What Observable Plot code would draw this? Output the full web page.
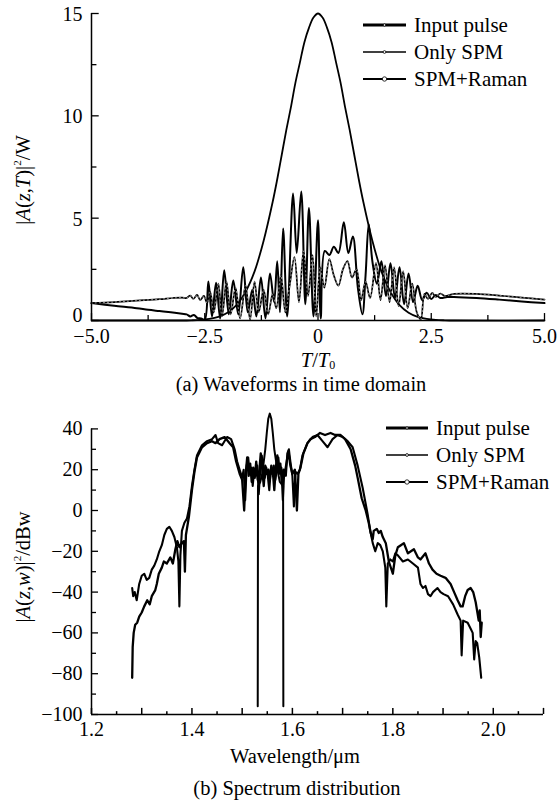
<!DOCTYPE html>
<html><head><meta charset="utf-8">
<script src="https://cdn.jsdelivr.net/npm/d3@7"></script>
<script src="https://cdn.jsdelivr.net/npm/@observablehq/plot@0.6"></script>
<style>
body{margin:0;background:#fff;}
#wrap{position:relative;width:558px;height:803px;font-family:"Liberation Serif","Times New Roman",serif;color:#000;overflow:hidden;background:#fff;}
.plot{position:absolute;left:0;}
.txt{position:absolute;font-size:20.5px;white-space:nowrap;line-height:1;transform:translate(-50%,-50%);}
.rot{position:absolute;font-size:20.5px;white-space:nowrap;line-height:1;transform:translate(-50%,-50%) rotate(-90deg);}
.leg{position:absolute;font-size:21px;white-space:nowrap;line-height:1;}
sup{font-size:11px;vertical-align:top;position:relative;top:-1px;}
sub{font-size:12px;vertical-align:baseline;position:relative;top:2px;line-height:1;}
</style></head><body><div id="wrap"></div>
<script>
// ---------- Panel (a): waveforms in time domain ----------
const timeTicks = [-5, -2.5, 0, 2.5, 5];
const timeMinorTicks = [-3.75, -1.25, 1.25, 3.75];
const powerTicks = [0, 5, 10, 15];
const powerMinorTicks = [2.5, 7.5, 12.5];

const waveInput = [[-5,0],[-3.5,0],[-3.0,0],[-2.8,0.01],[-2.6,0.03],[-2.4,0.08],[-2.2,0.18],[-2.0,0.38],[-1.8,0.75],[-1.6,1.4],[-1.4,2.4],[-1.2,3.9],[-1.0,5.8],[-0.9,6.9],[-0.8,8.1],[-0.7,9.3],[-0.6,10.4],[-0.5,11.6],[-0.4,12.6],[-0.3,13.6],[-0.2,14.3],[-0.1,14.8],[0,15],[0.1,14.8],[0.2,14.3],[0.3,13.6],[0.4,12.6],[0.5,11.6],[0.6,10.4],[0.7,9.3],[0.8,8.1],[0.9,6.9],[1.0,5.8],[1.2,3.9],[1.4,2.4],[1.6,1.4],[1.8,0.75],[2.0,0.38],[2.2,0.18],[2.4,0.08],[2.6,0.03],[2.8,0.01],[3.0,0],[5,0]];

const waveSPM = [[-5,0.85],[-4.5,0.9],[-4,0.97],[-3.5,1.04],[-3.2,1.1],[-3.0,1.12],[-2.9,1.1],[-2.82,1.22],[-2.75,1.05],[-2.67,1.25],[-2.6,1.0],[-2.52,1.2],[-2.45,0.85],[-2.38,1.4],[-2.3,0.4],[-2.2,1.8],[-2.12,0.2],[-2.02,1.9],[-1.93,0.3],[-1.82,1.6],[-1.72,0.1],[-1.6,1.7],[-1.5,0.05],[-1.4,1.9],[-1.31,0.4],[-1.2,1.5],[-1.1,0.3],[-1.0,1.3],[-0.92,0.6],[-0.82,2.2],[-0.72,0.4],[-0.62,1.8],[-0.52,3.1],[-0.42,0.9],[-0.32,3.4],[-0.22,1.2],[-0.12,3.2],[-0.04,0.2],[0.05,2.6],[0.14,1.6],[0.25,3.0],[0.35,2.2],[0.45,1.7],[0.55,2.5],[0.65,2.9],[0.75,2.1],[0.85,2.5],[0.95,1.0],[1.05,1.9],[1.15,1.1],[1.28,2.8],[1.38,1.0],[1.48,2.7],[1.58,0.9],[1.68,2.6],[1.78,0.7],[1.88,2.4],[1.98,0.6],[2.08,1.8],[2.18,0.4],[2.27,0.05],[2.35,1.3],[2.43,1.05],[2.52,1.35],[2.6,1.15],[2.7,1.32],[2.8,1.2],[3.0,1.3],[3.5,1.3],[4.0,1.22],[4.5,1.12],[5.0,1.02]];

const waveRaman = [[-5,0.85],[-4.5,0.72],[-4.0,0.6],[-3.75,0.52],[-3.5,0.46],[-3.25,0.4],[-3.0,0.33],[-2.9,0.3],[-2.82,0.2],[-2.74,0.27],[-2.66,0.12],[-2.58,0.1],[-2.5,0.03],[-2.42,1.9],[-2.34,0.2],[-2.25,1.85],[-2.16,0.1],[-2.07,2.45],[-1.97,0.3],[-1.87,1.95],[-1.76,0.3],[-1.65,2.6],[-1.55,0.4],[-1.45,1.5],[-1.36,0.2],[-1.26,2.1],[-1.16,0.1],[-1.06,2.3],[-0.97,0.9],[-0.9,2.9],[-0.84,0.4],[-0.77,4.5],[-0.68,0.2],[-0.55,6.2],[-0.47,3.3],[-0.37,6.3],[-0.28,0.8],[-0.2,5.5],[-0.1,0.2],[0.0,4.9],[0.06,0.1],[0.15,3.4],[0.25,3.2],[0.35,3.6],[0.45,3.3],[0.57,4.8],[0.67,3.3],[0.77,4.1],[0.88,1.6],[0.98,0.3],[1.05,2.2],[1.12,4.7],[1.2,2.9],[1.3,1.8],[1.4,2.9],[1.5,1.2],[1.6,2.8],[1.7,1.1],[1.8,2.6],[1.9,0.8],[2.0,2.3],[2.1,0.9],[2.2,1.7],[2.3,1.0],[2.4,1.35],[2.5,1.05],[2.6,1.25],[2.7,1.1],[2.85,1.15],[3.0,1.15],[3.5,1.1],[4.0,1.02],[4.5,0.93],[5.0,0.85]];

// ---------- Panel (b): spectrum distribution ----------
const lambdaTicks = [1.2, 1.4, 1.6, 1.8, 2.0];
const lambdaMidTicks = [1.3, 1.5, 1.7, 1.9, 2.1];
const lambdaMinorTicks = [1.25, 1.35, 1.45, 1.55, 1.65, 1.75, 1.85, 1.95, 2.05];
const dbTicks = [-100, -80, -60, -40, -20, 0, 20, 40];
const dbMinorTicks = [-90, -70, -50, -30, -10, 10, 30];

const specInput = [[1.531,-96],[1.5315,12],[1.536,14],[1.54,18],[1.543,24],[1.546,30],[1.549,38],[1.552,45],[1.555,47.5],[1.558,45],[1.561,38],[1.564,30],[1.567,25],[1.571,19],[1.575,14],[1.5815,12],[1.582,-96]];

const specSPM = [[1.281,-38],[1.283,-42],[1.286,-40],[1.29,-44],[1.295,-36],[1.3,-32],[1.305,-31],[1.31,-34],[1.315,-33],[1.32,-29],[1.325,-27],[1.33,-24],[1.335,-20],[1.34,-17],[1.345,-12],[1.35,-9],[1.355,-8],[1.36,-10],[1.365,-13],[1.37,-18],[1.373,-25],[1.375,-47],[1.377,-22],[1.38,-10],[1.385,-6],[1.39,-4],[1.395,2],[1.4,12],[1.405,20],[1.41,27],[1.42,32],[1.43,34],[1.44,35],[1.447,37],[1.452,33],[1.46,32],[1.47,36],[1.478,35],[1.485,30],[1.49,24],[1.495,20],[1.5,16],[1.503,20],[1.506,5],[1.509,22],[1.512,26],[1.515,18],[1.518,21],[1.521,12],[1.524,20],[1.527,17],[1.53,22],[1.533,8],[1.536,20],[1.539,27],[1.542,19],[1.545,16],[1.548,21],[1.551,17],[1.554,10],[1.557,20],[1.56,18],[1.563,22],[1.566,15],[1.569,20],[1.572,26],[1.575,18],[1.578,21],[1.581,5],[1.584,20],[1.587,17],[1.59,28],[1.593,30],[1.596,24],[1.6,17],[1.603,2],[1.606,19],[1.61,18],[1.615,20],[1.62,27],[1.63,33],[1.64,36],[1.65,37],[1.66,34],[1.67,31],[1.68,35],[1.69,37],[1.7,36],[1.71,34],[1.72,31],[1.73,22],[1.74,11],[1.75,-2],[1.755,-10],[1.76,-16],[1.765,-20],[1.77,-16],[1.775,-17],[1.78,-20],[1.785,-28],[1.787,-47],[1.79,-26],[1.795,-24],[1.8,-25],[1.805,-21],[1.81,-22],[1.82,-25],[1.83,-24],[1.84,-26],[1.85,-28],[1.855,-36],[1.86,-38],[1.865,-37],[1.87,-41],[1.875,-42],[1.88,-40],[1.889,-38],[1.895,-40],[1.901,-41],[1.91,-42],[1.92,-46],[1.929,-51],[1.935,-54],[1.937,-71],[1.94,-54],[1.949,-55],[1.955,-58],[1.959,-60],[1.962,-73],[1.965,-64],[1.968,-65],[1.972,-72],[1.976,-82]];

const specRaman = [[1.281,-82],[1.282,-67],[1.284,-60],[1.287,-56],[1.291,-55],[1.295,-52],[1.3,-50],[1.305,-47],[1.311,-44],[1.316,-46],[1.32,-42],[1.327,-39],[1.33,-36],[1.334,-31],[1.34,-28],[1.344,-25],[1.35,-26],[1.357,-23],[1.362,-26],[1.367,-19],[1.371,-15],[1.375,-18],[1.38,-16],[1.384,-15],[1.386,-30],[1.388,-12],[1.394,-3],[1.4,10],[1.405,19],[1.41,26],[1.42,31],[1.43,33],[1.44,34],[1.447,33],[1.455,35],[1.465,36],[1.475,33],[1.482,31],[1.488,24],[1.495,18],[1.5,15],[1.504,0],[1.507,18],[1.51,26],[1.513,17],[1.516,23],[1.519,14],[1.522,21],[1.525,16],[1.528,24],[1.531,15],[1.534,19],[1.537,28],[1.54,20],[1.543,12],[1.546,22],[1.549,18],[1.552,20],[1.555,15],[1.558,22],[1.561,19],[1.564,10],[1.567,21],[1.57,27],[1.573,19],[1.576,23],[1.579,14],[1.582,20],[1.585,18],[1.588,23],[1.592,29],[1.596,22],[1.6,18],[1.605,20],[1.609,0],[1.612,18],[1.616,21],[1.622,28],[1.63,33],[1.636,35],[1.645,36],[1.655,38],[1.665,37],[1.676,38],[1.685,37],[1.696,37],[1.705,35],[1.716,30],[1.725,22],[1.73,16],[1.738,6],[1.746,0],[1.752,-6],[1.756,-11],[1.76,-14],[1.762,-10],[1.768,-9],[1.772,-11],[1.776,-10],[1.78,-13],[1.786,-16],[1.792,-25],[1.8,-31],[1.805,-22],[1.81,-18],[1.816,-17],[1.822,-16],[1.83,-21],[1.836,-20],[1.842,-19],[1.85,-23],[1.855,-24],[1.865,-21],[1.872,-26],[1.879,-29],[1.887,-31],[1.895,-32],[1.905,-33],[1.915,-36],[1.922,-40],[1.929,-44],[1.935,-47],[1.939,-47],[1.944,-42],[1.949,-39],[1.955,-38],[1.96,-40],[1.965,-45],[1.971,-54],[1.973,-49],[1.975,-62],[1.977,-55]];

const legendLabels = ["Input pulse", "Only SPM", "SPM+Raman"];

// ---------- build ----------
const FONT = '"Liberation Serif","Times New Roman",serif';
const minus = d => String(d).replace("-", "\u2212");
const wrap = document.getElementById("wrap");

const topPlot = Plot.plot({
  width: 558, height: 350,
  marginLeft: 91, marginRight: 14, marginTop: 13, marginBottom: 30,
  x: {domain: [-5, 5], axis: null},
  y: {domain: [0, 15], axis: null},
  style: {fontFamily: FONT, fontSize: "20px", background: "transparent", overflow: "visible", color: "#000"},
  marks: [
    Plot.line(waveInput, {stroke: "#000", strokeWidth: 1.8, curve: "catmull-rom"}),
    Plot.line(waveRaman, {stroke: "#000", strokeWidth: 2, curve: "catmull-rom"}),
    Plot.line(waveSPM, {stroke: "#000", strokeWidth: 1.7, curve: "catmull-rom"}),
    Plot.line(waveSPM, {stroke: "#fff", strokeWidth: 0.6, strokeDasharray: "1 3", curve: "catmull-rom"}),
    Plot.ruleY([0], {stroke: "#000", strokeWidth: 1.5}),
    Plot.ruleX([-5], {stroke: "#000", strokeWidth: 1.5}),
    Plot.ruleX(timeTicks, {y1: 0, y2: 0.34, stroke: "#000", strokeWidth: 1.3}),
    Plot.ruleX(timeMinorTicks, {y1: 0, y2: 0.24, stroke: "#000", strokeWidth: 1.3}),
    Plot.ruleY(powerTicks, {x1: -5, x2: -4.83, stroke: "#000", strokeWidth: 1.3}),
    Plot.ruleY(powerMinorTicks, {x1: -5, x2: -4.88, stroke: "#000", strokeWidth: 1.3}),
    Plot.axisX(timeTicks, {tickSize: 0, tickPadding: 8, label: null, fontSize: 20, tickFormat: d => d === 0 ? "0" : minus(d.toFixed(1))}),
    Plot.axisY(powerTicks.filter(d => d !== 0), {tickSize: 0, tickPadding: 9, label: null, fontSize: 20, dy: 1, tickFormat: d => String(d)}),
    Plot.axisY(powerTicks.filter(d => d === 0), {tickSize: 0, tickPadding: 9, label: null, fontSize: 20, dy: -5, tickFormat: d => String(d)})
  ]
});
topPlot.classList.add("plot");
topPlot.style.top = "0px";
wrap.appendChild(topPlot);

const botPlot = Plot.plot({
  width: 558, height: 345,
  marginLeft: 91, marginRight: 15, marginTop: 28.4, marginBottom: 31,
  x: {domain: [1.2, 2.1], axis: null},
  y: {domain: [-100, 40], axis: null},
  style: {fontFamily: FONT, fontSize: "20px", background: "transparent", overflow: "visible", color: "#000"},
  marks: [
    Plot.line(specSPM, {stroke: "#000", strokeWidth: 2.1}),
    Plot.line(specRaman, {stroke: "#000", strokeWidth: 2.3}),
    Plot.line(specInput, {stroke: "#000", strokeWidth: 2}),
    Plot.ruleY([-100], {stroke: "#000", strokeWidth: 1.5}),
    Plot.ruleX([1.2], {stroke: "#000", strokeWidth: 1.5}),
    Plot.ruleX(lambdaTicks.concat(lambdaMidTicks), {y1: -100, y2: -97, stroke: "#000", strokeWidth: 1.5}),
    Plot.ruleX(lambdaMinorTicks, {y1: -100, y2: -98.6, stroke: "#000", strokeWidth: 1.5}),
    Plot.ruleY(dbTicks, {x1: 1.2, x2: 1.214, stroke: "#000", strokeWidth: 1.3}),
    Plot.ruleY(dbMinorTicks, {x1: 1.2, x2: 1.21, stroke: "#000", strokeWidth: 1.3}),
    Plot.axisX(lambdaTicks, {tickSize: 0, tickPadding: 7, label: null, fontSize: 20, tickFormat: d => d.toFixed(1)}),
    Plot.axisY(dbTicks, {tickSize: 0, tickPadding: 9, label: null, fontSize: 20, tickFormat: minus})
  ]
});
botPlot.classList.add("plot");
botPlot.style.top = "400px";
wrap.appendChild(botPlot);

// ---------- texts ----------
function addText(html, x, y, cls) {
  const d = document.createElement("div");
  d.className = cls || "txt";
  d.style.left = x + "px";
  d.style.top = y + "px";
  d.innerHTML = html;
  wrap.appendChild(d);
}
addText('|<i>A</i>(<i>z</i>,<i>T</i>)|<sup>2</sup>/W', 23, 180, "rot");
addText('<i>T</i>/<i>T</i><sub>0</sub>', 318, 360);
addText('(a) Waveforms in time domain', 301, 384);
addText('|<i>A</i>(<i>z</i>,<i>w</i>)|<sup>2</sup>/dBw', 23, 567, "rot");
addText('Wavelength/\u03bcm', 295, 756);
addText('(b) Spectrum distribution', 297, 788);

// ---------- legends ----------
const legStyles = [
  {w: 3, marker: 1.2},
  {w: 1.5, marker: 1.4},
  {w: 2, marker: 2.2}
];
function addLegend(x1, x2, tx, ys) {
  const svgNS = "http://www.w3.org/2000/svg";
  legendLabels.forEach((lab, i) => {
    const s = legStyles[i];
    const svg = document.createElementNS(svgNS, "svg");
    svg.setAttribute("width", x2 - x1 + 4);
    svg.setAttribute("height", 10);
    svg.style.position = "absolute";
    svg.style.left = (x1 - 2) + "px";
    svg.style.top = (ys[i] - 5) + "px";
    const ln = document.createElementNS(svgNS, "line");
    ln.setAttribute("x1", 2); ln.setAttribute("x2", x2 - x1 + 2);
    ln.setAttribute("y1", 5); ln.setAttribute("y2", 5);
    ln.setAttribute("stroke", "#000"); ln.setAttribute("stroke-width", s.w);
    svg.appendChild(ln);
    const c = document.createElementNS(svgNS, "circle");
    c.setAttribute("cx", (x2 - x1) / 2 + 2); c.setAttribute("cy", 5);
    c.setAttribute("r", s.marker); c.setAttribute("fill", "#fff");
    c.setAttribute("stroke", "#000"); c.setAttribute("stroke-width", 0.8);
    svg.appendChild(c);
    wrap.appendChild(svg);
    const d = document.createElement("div");
    d.className = "leg";
    d.style.left = tx + "px";
    d.style.top = (ys[i] - 10.5) + "px";
    d.textContent = lab;
    wrap.appendChild(d);
  });
}
addLegend(363, 406, 414, [25, 52, 79]);
addLegend(386, 428, 436, [428, 455, 482]);
</script>
</body></html>
